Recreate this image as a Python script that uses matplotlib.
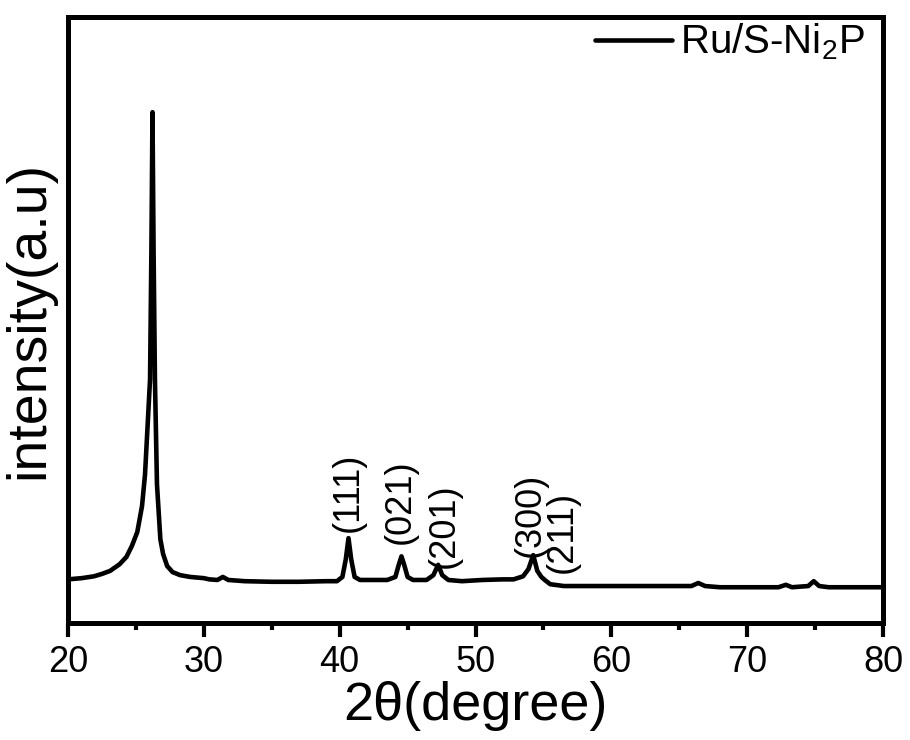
import matplotlib
matplotlib.use("Agg")
import matplotlib.pyplot as plt

plt.rcParams['font.family'] = ['Liberation Sans', 'DejaVu Sans']
plt.rcParams['mathtext.fontset'] = 'custom'
plt.rcParams['mathtext.rm'] = 'Liberation Sans'
plt.rcParams['mathtext.it'] = 'Liberation Sans:italic'

# ---- data ----
two_theta = [20.0, 21.0, 21.9, 22.5, 23.1, 23.8, 24.3, 24.7, 25.1, 25.45, 25.67,
             26.04, 26.14, 26.22, 26.3, 26.4, 26.55, 26.8, 27.0, 27.3, 27.7, 28.25,
             29.0, 30.0, 30.4, 31.0, 31.4, 31.8, 33.0, 35.0, 37.0, 39.0, 39.8,
             40.2, 40.45, 40.65, 40.85, 41.1, 41.5, 42.5, 43.5,
             44.1, 44.35, 44.55, 44.75, 45.0, 45.4, 46.4,
             46.9, 47.25, 47.55, 48.0, 49.0, 50.5, 52.0, 52.8,
             53.5, 53.9, 54.25, 54.55, 54.85, 55.1, 55.5, 56.5, 58.0, 60.0, 62.0,
             64.0, 65.9, 66.4, 66.9, 68.0, 70.0, 72.3, 72.85, 73.3, 74.5, 74.9,
             75.3, 76.0, 78.0, 80.0]
intensity = [72, 74, 77, 81, 86, 97, 109, 127, 150, 193, 245,
             402, 616, 843, 616, 402, 229, 138, 114, 94, 84, 79,
             76, 74, 72, 71, 76, 71, 69, 68, 68, 69, 69,
             76, 105, 140, 105, 76, 71, 71, 71,
             76, 96, 110, 96, 76, 71, 71,
             79, 96, 79, 71, 69, 71, 72, 72,
             77, 89, 112, 86, 76, 71, 64, 61, 61, 61, 61,
             61, 61, 66, 61, 59, 59, 59, 63, 59, 61, 69,
             61, 59, 59, 59]

series_name = 'Ru/S-Ni$_2$P'
peak_labels = ['(111)', '(021)', '(201)', '(300)', '(211)']
peak_label_x = [40.62, 44.44, 47.68, 54.02, 56.38]
peak_label_y = [216, 201, 161, 178, 150]

x_ticks = [20, 30, 40, 50, 60, 70, 80]

# ---- figure ----
fig = plt.figure(figsize=(9.1, 7.4), dpi=100)
ax = fig.add_axes([68/910, 1-623/740, (883-68)/910, (623-17)/740])

ax.plot(two_theta, intensity, color='black', lw=3.3, solid_joinstyle='round',
        solid_capstyle='round', label=series_name)

for lab, lx, ly in zip(peak_labels, peak_label_x, peak_label_y):
    ax.text(lx, ly, lab, rotation=90, ha='center', va='center', fontsize=26)

ax.set_xlim(20, 80)
ax.set_ylim(0, 1000)
ax.set_xticks(x_ticks)
ax.set_xticks([25, 35, 45, 55, 65, 75], minor=True)
ax.set_yticks([])
ax.tick_params(axis='x', which='major', direction='out', length=10, width=3,
               labelsize=26, pad=6)
ax.tick_params(axis='x', which='minor', direction='out', length=5, width=3)
for s in ax.spines.values():
    s.set_linewidth(3.6)

ax.set_xlabel('2θ(degree)', fontsize=39)
ax.xaxis.set_label_coords(0.5, -0.095)
ax.set_ylabel('intensity(a.u)', fontsize=40, labelpad=9)

leg = ax.legend(loc='upper right', fontsize=29, frameon=False, handlelength=1.9,
                handletextpad=0.2, borderaxespad=0.0, borderpad=0.0,
                bbox_to_anchor=(0.977, 0.992))

fig.savefig('out.png', dpi=100)
